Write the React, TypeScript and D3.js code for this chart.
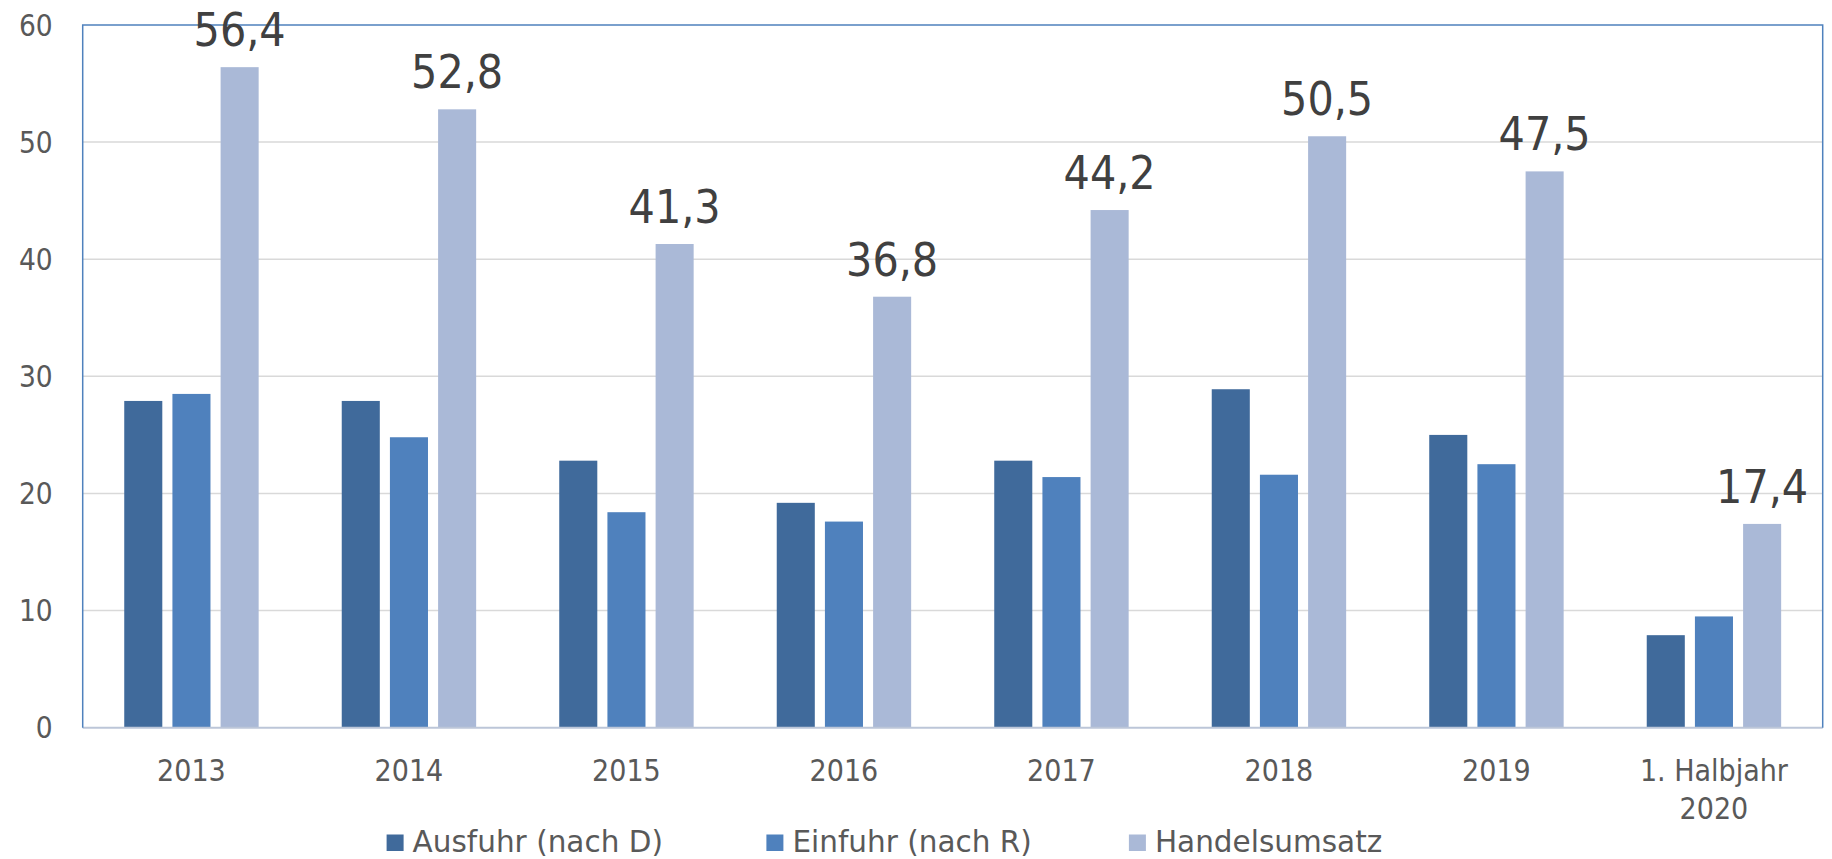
import React from "react";
import * as d3 from "d3";

const categories: string[][] = [["2013"], ["2014"], ["2015"], ["2016"], ["2017"], ["2018"], ["2019"], ["1. Halbjahr", "2020"]];
const seriesNames = ["Ausfuhr (nach D)", "Einfuhr (nach R)", "Handelsumsatz"];
const ausfuhr = [27.9, 27.9, 22.8, 19.2, 22.8, 28.9, 25.0, 7.9];
const einfuhr = [28.5, 24.8, 18.4, 17.6, 21.4, 21.6, 22.5, 9.5];
const handelsumsatz = [56.4, 52.8, 41.3, 36.8, 44.2, 50.5, 47.5, 17.4];
const yTicks = [0, 10, 20, 30, 40, 50, 60];
const colors = ["#406A9B", "#4F81BD", "#AAB9D7"];

const W = 1832;
const H = 859;
const plot = { left: 82.7, right: 1822.7, top: 25, bottom: 727.7 };
const FONT = "'DejaVu Sans', sans-serif";
const FONTC = "'DejaVu Sans Condensed', 'DejaVu Sans', sans-serif";

const fmt = d3.formatLocale({ decimal: ",", thousands: ".", grouping: [3], currency: ["", "€"] }).format(".1f");

export default function App() {
  const series = [ausfuhr, einfuhr, handelsumsatz];
  const x0 = d3.scaleBand<number>().domain(d3.range(categories.length)).range([plot.left, plot.right]).paddingInner(0).paddingOuter(0);
  const gw = x0.bandwidth();
  const outer = gw * 0.191;
  const x1 = d3.scaleBand<number>().domain([0, 1, 2]).range([outer, gw - outer]).paddingInner(0.21).paddingOuter(0);
  const y = d3.scaleLinear().domain([0, 60]).range([plot.bottom, plot.top]);

  const legendX = [386.6, 766.4, 1128.9];

  return (
    <svg width={W} height={H} style={{ position: "absolute", left: 0, top: 0, display: "block", background: "#fff" }}>
      {yTicks.filter(t => t > 0 && t < 60).map(t => (
        <line key={"g" + t} x1={plot.left} x2={plot.right} y1={y(t)} y2={y(t)} stroke="#D9D9D9" strokeWidth={1.5} />
      ))}
      {series.map((vals, si) =>
        vals.map((v, ci) => (
          <rect
            key={`b${si}-${ci}`}
            x={(x0(ci) as number) + (x1(si) as number)}
            y={y(v)}
            width={x1.bandwidth()}
            height={y(0) - y(v)}
            fill={colors[si]}
          />
        ))
      )}
      <line x1={plot.left} x2={plot.right} y1={plot.bottom} y2={plot.bottom} stroke="#BCC6D8" strokeWidth={2} />
      <path
        d={`M${plot.left},${plot.bottom} V${plot.top} H${plot.right} V${plot.bottom}`}
        fill="none"
        stroke="#4F81BD"
        strokeWidth={1.5}
      />
      {yTicks.map(t => (
        <text key={"t" + t} x={52.7} y={y(t)} dy="0.36em" textAnchor="end" fontFamily={FONTC} fontStretch="condensed" fontSize={29.5} fill="#595959">
          {t}
        </text>
      ))}
      {categories.map((lines, ci) => (
        <text key={"c" + ci} textAnchor="middle" fontFamily={FONTC} fontStretch="condensed" fontSize={30} fill="#595959">
          {lines.map((l, li) => (
            <tspan key={li} x={(x0(ci) as number) + gw / 2} y={781 + li * 38}>
              {l}
            </tspan>
          ))}
        </text>
      ))}
      {handelsumsatz.map((v, ci) => (
        <text
          key={"l" + ci}
          x={(x0(ci) as number) + (x1(2) as number) + x1.bandwidth() / 2}
          y={y(v) - 21}
          textAnchor="middle"
          fontFamily={FONTC}
          fontStretch="condensed"
          fontSize={46}
          fill="#404040"
        >
          {fmt(v)}
        </text>
      ))}
      {seriesNames.map((n, si) => (
        <g key={"lg" + si}>
          <rect x={legendX[si]} y={834.5} width={17} height={16.5} fill={colors[si]} />
          <text x={legendX[si] + 26} y={852} fontFamily={FONT} fontSize={29.5} fill="#595959">
            {n}
          </text>
        </g>
      ))}
    </svg>
  );
}
